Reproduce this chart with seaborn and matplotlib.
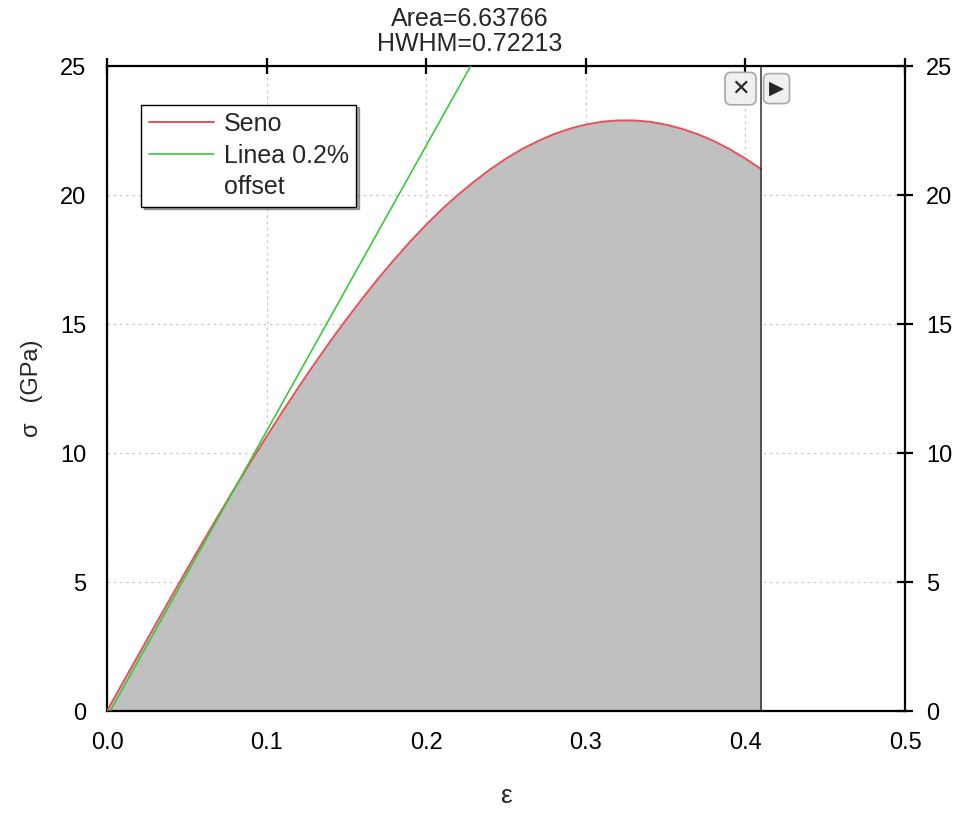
import seaborn as sns
from matplotlib import pyplot as plt
from matplotlib.lines import Line2D
import pandas as pd
import numpy as np

# stress-strain curve
strain = [0.00, 0.01, 0.02, 0.03, 0.04, 0.05, 0.06, 0.07, 0.08, 0.09, 0.10,
          0.11, 0.12, 0.13, 0.14, 0.15, 0.16, 0.17, 0.18, 0.19, 0.20,
          0.21, 0.22, 0.23, 0.24, 0.25, 0.26, 0.27, 0.28, 0.29, 0.30,
          0.31, 0.32, 0.33, 0.34, 0.35, 0.36, 0.37, 0.38, 0.39, 0.40, 0.41]
stress = [0.00, 1.11, 2.21, 3.31, 4.40, 5.48, 6.55, 7.60, 8.64, 9.65, 10.64,
          11.61, 12.55, 13.46, 14.34, 15.18, 15.99, 16.77, 17.50, 18.20, 18.85,
          19.46, 20.01, 20.52, 20.99, 21.41, 21.78, 22.09, 22.36, 22.57, 22.73,
          22.84, 22.89, 22.89, 22.84, 22.73, 22.57, 22.36, 22.10, 21.78, 21.41, 21.00]

# 0.2% offset line (two end points)
offset_x = [0.002, 0.236]
offset_y = [0.0, 25.9]

x_ticks = [0.0, 0.1, 0.2, 0.3, 0.4, 0.5]
y_ticks = [0, 5, 10, 15, 20, 25]
x_cut = 0.41

sns.set_style("white")
plt.rcParams['font.family'] = ['Liberation Sans', 'DejaVu Sans']

fig = plt.figure(figsize=(9.58, 8.15), dpi=100)
ax = fig.add_axes([0.1117, 0.1276, 0.833, 0.7914])

df = pd.DataFrame({'strain': strain, 'stress': stress})
df_off = pd.DataFrame({'strain': offset_x, 'stress': offset_y})

# grey integrated area under the curve
ax.fill_between(df['strain'], 0, df['stress'], color='#c0c0c0', linewidth=0, zorder=1)

sns.lineplot(data=df, x='strain', y='stress', color='#e8505a', linewidth=1.4,
             ax=ax, label='Seno', zorder=3, sort=False)
sns.lineplot(data=df_off, x='strain', y='stress', color='#3cc83c', linewidth=1.2,
             ax=ax, label='Linea 0.2%', zorder=3, sort=False)

# vertical marker line at the integration limit
ax.axvline(x_cut, color='#303030', linewidth=1.1, zorder=4)

ax.set_xlim(0, 0.5)
ax.set_ylim(0, 25)
ax.set_xticks(x_ticks)
ax.set_yticks(y_ticks)
ax.set_xticklabels([f'{v:.1f}' for v in x_ticks])
ax.grid(True, linestyle=(0, (2, 3)), color='#c8c8c8', linewidth=0.9)
ax.set_axisbelow(True)

for s in ax.spines.values():
    s.set_color('black')
    s.set_linewidth(1.6)

ax.tick_params(axis='both', which='major', direction='inout', length=12, width=1.6,
               labelsize=17, top=True, right=True, labelright=True,
               colors='black', pad=9)

ax.set_xlabel('ε', fontsize=19, labelpad=22)
ax.set_ylabel('σ   (GPa)', fontsize=17, labelpad=12)

# legend: second label wraps onto a line of its own, handle stays on the first
handles, labels = ax.get_legend_handles_labels()
handles.append(Line2D([], [], linestyle='none'))
labels.append('offset')
leg = ax.legend(handles, labels, loc='upper left', bbox_to_anchor=(0.043, 0.94),
                frameon=True, fancybox=False, shadow=True, edgecolor='black',
                fontsize=18, handlelength=2.6, handletextpad=0.4, borderpad=0.3,
                labelspacing=0.3, borderaxespad=0)
leg.get_frame().set_linewidth(1.0)

# info text above the plot
fig.text(0.49, 0.991, 'Area=6.63766\nHWHM=0.72213', ha='center', va='top',
         fontsize=18, linespacing=1.05)

# the little gadget buttons
box = dict(boxstyle='round,pad=0.28', fc='#f0f0f0', ec='#a8a8a8', lw=1.2)
ax.text(0.7939, 0.965, '✕', transform=ax.transAxes, ha='center', va='center',
        fontsize=16, fontweight='bold', bbox=box, family=['DejaVu Sans'], zorder=6)
ax.text(0.8390, 0.965, '▶', transform=ax.transAxes, ha='center', va='center',
        fontsize=14, bbox=box, family=['DejaVu Sans'], zorder=6)

plt.savefig('out.png', dpi=100)
